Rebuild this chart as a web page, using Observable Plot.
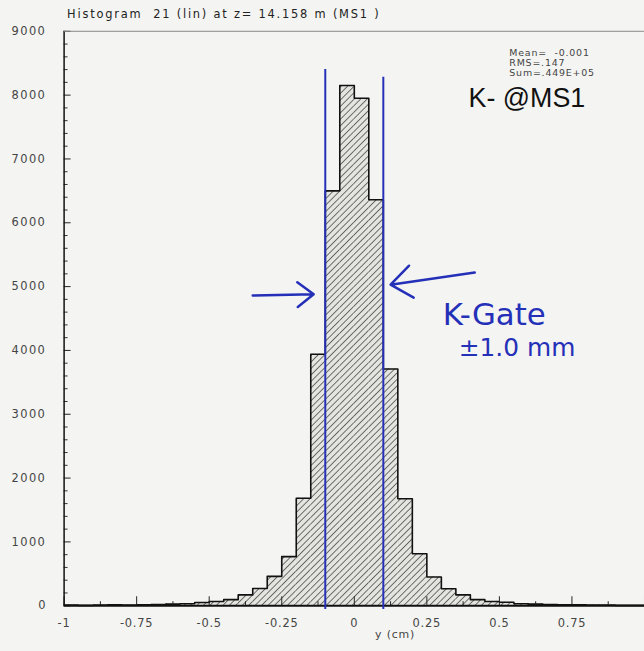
<!DOCTYPE html>
<html>
<head>
<meta charset="utf-8">
<script src="https://cdn.jsdelivr.net/npm/d3@7"></script>
<script src="https://cdn.jsdelivr.net/npm/@observablehq/plot@0.6"></script>
<style>
  html, body { margin: 0; padding: 0; background: #f4f4f2; overflow: hidden; }
  #chart { position: relative; width: 644px; height: 651px; overflow: hidden; }
  #chart svg text { letter-spacing: 0.8px; }
</style>
</head>
<body>
<div id="chart"></div>
<script>
// ---- data ----
const binLo = [-1, -0.95, -0.9, -0.85, -0.8, -0.75, -0.7, -0.65, -0.6, -0.55,
               -0.5, -0.45, -0.4, -0.35, -0.3, -0.25, -0.2, -0.15, -0.1, -0.05,
               0, 0.05, 0.1, 0.15, 0.2, 0.25, 0.3, 0.35, 0.4, 0.45,
               0.5, 0.55, 0.6, 0.65, 0.7, 0.75, 0.8, 0.85, 0.9, 0.95];
const binHi = [-0.95, -0.9, -0.85, -0.8, -0.75, -0.7, -0.65, -0.6, -0.55, -0.5,
               -0.45, -0.4, -0.35, -0.3, -0.25, -0.2, -0.15, -0.1, -0.05, 0,
               0.05, 0.1, 0.15, 0.2, 0.25, 0.3, 0.35, 0.4, 0.45, 0.5,
               0.55, 0.6, 0.65, 0.7, 0.75, 0.8, 0.85, 0.9, 0.95, 1];
const counts = [10, 5, 10, 15, 10, 15, 20, 25, 30, 50,
                65, 95, 170, 270, 460, 770, 1685, 3940, 6500, 8150,
                7950, 6360, 3710, 1675, 815, 450, 265, 170, 95, 65,
                55, 30, 25, 20, 15, 15, 10, 10, 5, 5];

const xTickLabels = [-1, -0.75, -0.5, -0.25, 0, 0.25, 0.5, 0.75];
const xMajor = [-1, -0.75, -0.5, -0.25, 0, 0.25, 0.5, 0.75, 1];
const xMinor = [-0.875, -0.625, -0.375, -0.125, 0.125, 0.375, 0.625, 0.875];
const yMajor = [0, 1000, 2000, 3000, 4000, 5000, 6000, 7000, 8000, 9000];
const yMinor = [200, 400, 600, 800, 1200, 1400, 1600, 1800, 2200, 2400, 2600, 2800,
                3200, 3400, 3600, 3800, 4200, 4400, 4600, 4800, 5200, 5400, 5600, 5800,
                6200, 6400, 6600, 6800, 7200, 7400, 7600, 7800, 8200, 8400, 8600, 8800];

const titleText = ["Histogram  21 (lin) at z= 14.158 m (MS1 )"];
const statMean = ["Mean=  -0.001"];
const statRms = ["RMS=.147"];
const statSum = ["Sum=.449E+05"];
const bigLabel = ["K- @MS1"];
const xLabel = ["y (cm)"];

// K-gate annotation (hand drawn in blue)
const gate = [-0.1, 0.1];
const gateTop = [8400, 8280];
const arrows = [
  {x1: -0.35, y1: 4860, x2: -0.14, y2: 4880},
  {x1: 0.415, y1: 5220, x2: 0.125, y2: 5030}
];
const gateNotes = [
  {x: 0.305, y: 4560, text: "K-Gate", size: 31},
  {x: 0.36, y: 4030, text: "±1.0 mm", size: 25}
];

// ---- build ----
const table = binLo.map((lo, i) => ({lo, hi: binHi[i], n: counts[i]}));
const outline = table.map(d => ({x: d.lo, y: d.n})).concat([{x: binHi[binHi.length - 1], y: counts[counts.length - 1]}]);
const gateData = gate.map((g, i) => ({x: g, top: gateTop[i]}));

const blue = "#2430b8";
const txt = {textAnchor: "start", lineAnchor: "middle", text: d => d};

const plot = Plot.plot({
  width: 648,
  height: 651,
  marginLeft: 64,
  marginRight: 0,
  marginTop: 31,
  marginBottom: 42,
  style: {background: "transparent", fontFamily: "'DejaVu Sans', sans-serif", fontSize: "10px", color: "#333"},
  x: {domain: [-1, 1], label: null},
  y: {domain: [0, 9000], label: null},
  marks: [
    Plot.rectY(table, {x1: "lo", x2: "hi", y: "n", fill: "url(#hatch)"}),
    Plot.line(outline, {x: "x", y: "y", curve: "step-after", stroke: "#111", strokeWidth: 1.6}),
    // axes
    Plot.axisX(xTickLabels, {anchor: "bottom", tickSize: 0, tickPadding: 13, tickFormat: d => String(d), fill: "#444", fontSize: 11.5, label: null}),
    Plot.axisX(xMajor, {anchor: "bottom", tickSize: -9, tickPadding: 0, tickFormat: () => "", stroke: "#222", label: null}),
    Plot.axisX(xMinor, {anchor: "bottom", tickSize: -4, tickPadding: 0, tickFormat: () => "", stroke: "#222", label: null}),
    Plot.axisY(yMajor, {anchor: "left", tickSize: -7, tickPadding: 25, tickFormat: d => String(d), stroke: "#222", fill: "#444", fontSize: 11.5, label: null}),
    Plot.axisY(yMinor, {anchor: "left", tickSize: -4, tickPadding: 0, tickFormat: () => "", stroke: "#333", label: null}),
    Plot.ruleY([0], {stroke: "#111", strokeWidth: 2}),
    Plot.ruleX([-1], {stroke: "#111", strokeWidth: 1.5}),
    Plot.ruleY([9000], {stroke: "#8a8a8a", strokeWidth: 1}),
    // texts
    Plot.text(titleText, {...txt, frameAnchor: "top-left", dx: 3, dy: -17, fontSize: 11.5, fill: "#222"}),
    Plot.text(statMean, {...txt, frameAnchor: "top-left", dx: 448, dy: 22, fontSize: 9.5, fill: "#444"}),
    Plot.text(statRms, {...txt, frameAnchor: "top-left", dx: 448, dy: 32, fontSize: 9.5, fill: "#444"}),
    Plot.text(statSum, {...txt, frameAnchor: "top-left", dx: 448, dy: 42, fontSize: 9.5, fill: "#444"}),
    Plot.text(xLabel, {...txt, textAnchor: "middle", frameAnchor: "bottom-left", dx: 333, dy: 29, fontSize: 11, fill: "#444"}),
    Plot.text(bigLabel, {...txt, frameAnchor: "top-left", dx: 407, dy: 68, fontSize: 27, fill: "#111", fontFamily: "'Liberation Sans', Arial, sans-serif"}),
    // hand-drawn K gate annotation
    Plot.ruleX(gateData, {x: "x", y1: -60, y2: "top", stroke: blue, strokeWidth: 2}),
    Plot.arrow(arrows, {x1: "x1", y1: "y1", x2: "x2", y2: "y2", stroke: blue, strokeWidth: 2.5, headLength: 16, headAngle: 75}),
    Plot.text(gateNotes, {x: "x", y: "y", text: "text", fontSize: d => d.size, fill: blue, textAnchor: "start", lineAnchor: "middle", fontFamily: "'DejaVu Sans', sans-serif"})
  ]
});

// hatch pattern
const ns = "http://www.w3.org/2000/svg";
const defs = document.createElementNS(ns, "defs");
const pat = document.createElementNS(ns, "pattern");
pat.setAttribute("id", "hatch");
pat.setAttribute("patternUnits", "userSpaceOnUse");
pat.setAttribute("width", "4.6");
pat.setAttribute("height", "4.6");
pat.setAttribute("patternTransform", "rotate(45)");
const bg = document.createElementNS(ns, "rect");
bg.setAttribute("width", "4.6"); bg.setAttribute("height", "4.6"); bg.setAttribute("fill", "#e4e4e0");
const ln = document.createElementNS(ns, "line");
ln.setAttribute("x1", "0"); ln.setAttribute("y1", "0"); ln.setAttribute("x2", "0"); ln.setAttribute("y2", "4.6");
ln.setAttribute("stroke", "#2a2a2a"); ln.setAttribute("stroke-width", "1.3");
pat.appendChild(bg); pat.appendChild(ln); defs.appendChild(pat);
plot.insertBefore(defs, plot.firstChild);

// wider letter spacing for the title and the y tick labels (HIGZ style)
plot.querySelectorAll("text").forEach(t => {
  const s = t.textContent;
  if (s.startsWith("Histogram")) t.style.letterSpacing = "1.8px";
  else if (/^\d{4}$/.test(s)) t.style.letterSpacing = "1.4px";
  else if (s.startsWith("K-") || s.startsWith("±")) t.style.letterSpacing = "0px";
});

document.getElementById("chart").appendChild(plot);
</script>
</body>
</html>
